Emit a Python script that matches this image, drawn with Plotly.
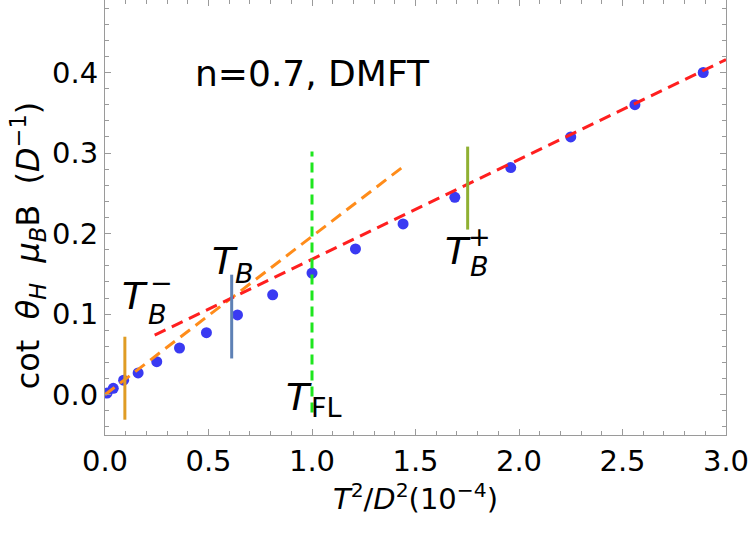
import plotly.graph_objects as go

# ---- data ----
t2 = [0.01, 0.04, 0.09, 0.16, 0.25, 0.36, 0.49, 0.64, 0.81, 1.00,
      1.21, 1.44, 1.69, 1.96, 2.25, 2.56, 2.89]
cot_mu_b = [0.002, 0.008, 0.018, 0.027, 0.041, 0.058, 0.077, 0.099, 0.124, 0.151,
            0.181, 0.212, 0.245, 0.282, 0.320, 0.360, 0.400]

# high-T linear fit (red dashed)
high_fit_x = [0.24, 3.0]
high_fit_y = [0.074, 0.416]
# low-T linear fit (orange dashed)
low_fit_x = [0.0, 1.445]
low_fit_y = [0.0, 0.284]

# characteristic temperatures (vertical markers)
tb_minus_x, tb_minus_y = [0.096, 0.096], [-0.031, 0.072]
tb_x, tb_y = [0.612, 0.612], [0.045, 0.149]
tfl_x, tfl_y = [1.0, 1.0], [-0.022, 0.302]
tb_plus_x, tb_plus_y = [1.752, 1.752], [0.205, 0.308]

x_ticks = [0.0, 0.5, 1.0, 1.5, 2.0, 2.5, 3.0]
x_minor = [round(0.1 * i, 1) for i in range(31)]
y_ticks = [0.0, 0.1, 0.2, 0.3, 0.4]
y_minor = [round(-0.04 + 0.02 * i, 2) for i in range(27)]

FONT = "DejaVu Sans, Liberation Sans, Arial, sans-serif"
FRAME = "#9a9a9a"

fig = go.Figure()

fig.add_trace(go.Scatter(x=t2, y=cot_mu_b, mode="markers",
                         marker=dict(size=11, color="#3a3af2", line=dict(width=0))))

fig.add_trace(go.Scatter(x=low_fit_x, y=low_fit_y, mode="lines",
                         line=dict(color="#ff8c1a", width=3, dash="12px,7px")))
fig.add_trace(go.Scatter(x=high_fit_x, y=high_fit_y, mode="lines",
                         line=dict(color="#ff1f1f", width=3, dash="12px,7px")))

fig.add_trace(go.Scatter(x=tb_minus_x, y=tb_minus_y, mode="lines",
                         line=dict(color="#e09c24", width=3)))
fig.add_trace(go.Scatter(x=tb_x, y=tb_y, mode="lines",
                         line=dict(color="#5e81b5", width=3)))
fig.add_trace(go.Scatter(x=tfl_x, y=tfl_y, mode="lines",
                         line=dict(color="#1ee61e", width=3, dash="10px,6px")))
fig.add_trace(go.Scatter(x=tb_plus_x, y=tb_plus_y, mode="lines",
                         line=dict(color="#8fb032", width=3)))

axis_common = dict(showline=True, linecolor=FRAME, linewidth=1, mirror="allticks",
                   ticks="inside", ticklen=6, tickcolor=FRAME, tickwidth=1,
                   showgrid=False, zeroline=False,
                   tickfont=dict(family=FONT, size=29, color="black"))

fig.update_xaxes(range=[0, 3.0], tickvals=x_ticks,
                 ticktext=[f"{v:.1f}" for v in x_ticks],
                 minor=dict(tickvals=x_minor, ticks="inside", ticklen=4,
                            tickcolor=FRAME, showgrid=False),
                 title=dict(text="<i>T</i><sup>2</sup>/<i>D</i><sup>2</sup>(10<sup>−4</sup>)",
                            font=dict(family=FONT, size=29, color="black"), standoff=4),
                 **axis_common)
fig.update_yaxes(range=[-0.05, 0.49], tickvals=y_ticks,
                 ticktext=[f"{v:.1f}" for v in y_ticks],
                 minor=dict(tickvals=y_minor, ticks="inside", ticklen=4,
                            tickcolor=FRAME, showgrid=False),
                 **axis_common)

# y-axis title as rotated text
fig.add_annotation(xref="paper", yref="paper", x=-0.124, y=0.436,
                   text="cot\u00a0\u00a0<i>θ</i><sub><i>H</i></sub>\u00a0\u00a0<i>μ</i><sub><i>B</i></sub>B\u00a0\u00a0(<i>D</i><sup>−1</sup>)",
                   textangle=-90, showarrow=False, xanchor="center", yanchor="middle",
                   font=dict(family=FONT, size=32, color="black"))

def ann(x, y, text, size):
    fig.add_annotation(x=x, y=y, xref="x", yref="y", text=text, showarrow=False,
                       xanchor="center", yanchor="middle",
                       font=dict(family=FONT, size=size, color="black"))

ann(1.0, 0.399, "n=0.7, DMFT", 36)
# T_B^-
ann(0.147, 0.1225, "<i>T</i>", 38)
ann(0.256, 0.099, "<i>B</i>", 27)
ann(0.275, 0.1387, "−", 27)
# T_B
ann(0.580, 0.166, "<i>T</i>", 38)
ann(0.676, 0.150, "<i>B</i>", 27)
# T_FL
ann(0.937, -0.003, "<i>T</i>", 38)
ann(1.068, -0.016, "FL", 27)
# T_B^+
ann(1.705, 0.178, "<i>T</i>", 38)
ann(1.807, 0.196, "+", 27)
ann(1.809, 0.159, "<i>B</i>", 27)

fig.update_layout(width=750, height=534, margin=dict(l=105, r=24, t=0, b=99, autoexpand=False),
                  plot_bgcolor="white", paper_bgcolor="white", showlegend=False,
                  font=dict(family=FONT, color="black"))

fig.write_html("out.html")
